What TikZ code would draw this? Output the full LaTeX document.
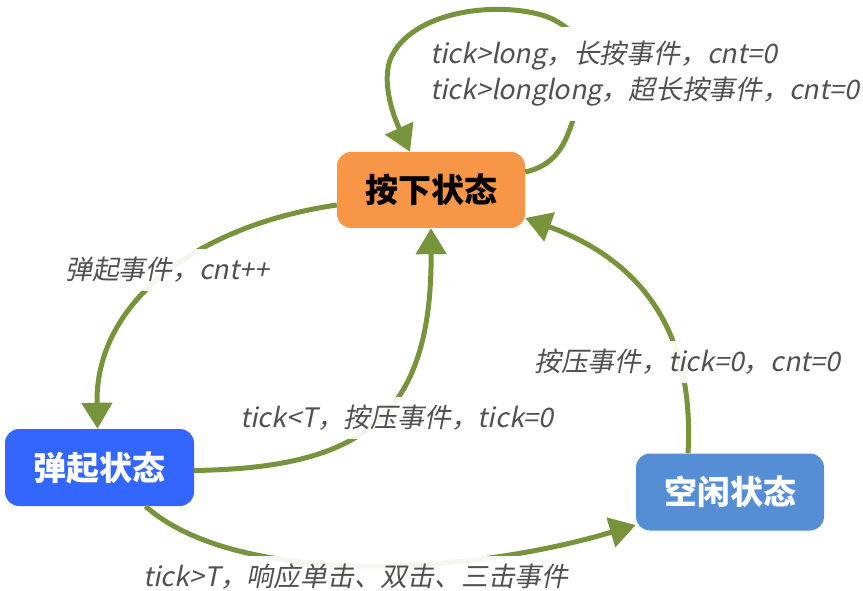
\documentclass[tikz,border=0pt]{standalone}
\usepackage{fontspec}
\setmainfont{Noto Sans CJK SC}
\newfontfamily\labfont[FakeSlant=0.2]{Noto Sans CJK SC}
\usetikzlibrary{arrows.meta}
\definecolor{orng}{HTML}{F79646}
\definecolor{blu}{HTML}{3366FF}
\definecolor{lblu}{HTML}{558ED5}
\definecolor{grn}{HTML}{77933C}
\definecolor{txt}{HTML}{505050}
\tikzset{
  state/.style={rounded corners=14pt, minimum width=188pt, minimum height=76pt, inner sep=0pt,
    font=\bfseries\fontsize{33}{38}\selectfont},
  edge/.style={draw=grn, line width=5pt, -{Triangle[length=26pt,width=30pt]}},
  lab/.style={font=\labfont\fontsize{26.8}{36}\selectfont, text=txt, fill=white, fill opacity=0.92,
    text opacity=1, inner xsep=4pt, inner ysep=8pt, align=left, anchor=west}
}
\begin{document}
\begin{tikzpicture}[x=1pt,y=-1pt]
\useasboundingbox (0,0) rectangle (863,591);
\node[state, fill=orng, text=black] (A) at (431,190) {按下状态};
\node[state, fill=blu, text=white, minimum width=189pt, minimum height=77pt] (B) at (99.5,467.5) {弹起状态};
\node[state, fill=lblu, text=white, minimum height=77pt] (C) at (730,492) {空闲状态};

\draw[edge] ([yshift=18pt]A.east) .. controls (558,165) and (566,140) .. (572,123)
  .. controls (585,80) and (600,40) .. (548,17)
  .. controls (500,0) and (410,10) .. (390,60)
  .. controls (380,90) and (400,130) .. ([xshift=-21pt]A.north);
\draw[edge] ([yshift=-15pt]A.west) .. controls (200,225) and (95,300) .. ([xshift=-2pt]B.north);
\draw[edge] ([yshift=-3pt]B.east) .. controls (360,468) and (432,420) .. (A.south);
\draw[edge] ([xshift=-42pt]C.north) .. controls (695,330) and (640,260) .. ([yshift=-28pt]A.east);
\draw[edge] ([xshift=46pt]B.south) .. controls (230,582) and (450,580) .. ([yshift=-33pt]C.west);

\node[lab, fill opacity=1, inner ysep=14pt] (l1) at (426,74) {tick>long，长按事件，cnt=0\\tick>longlong，超长按事件，cnt=0};
\node[lab] (l2) at (61,270) {弹起事件，cnt++};
\node[lab] (l3) at (236,418) {tick<T，按压事件，tick=0};
\node[lab] (l4) at (530,362) {按压事件，tick=0，cnt=0};
\node[lab] (l5) at (139,577) {tick>T，响应单击、双击、三击事件};
\end{tikzpicture}
\end{document}
